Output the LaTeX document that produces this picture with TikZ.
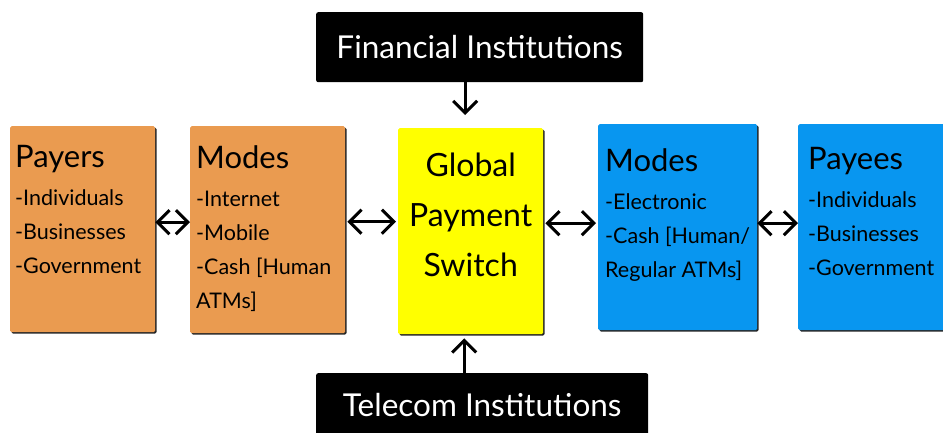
\documentclass[tikz,border=0pt]{standalone}
\usepackage{fontspec}
\setmainfont{Lato}
\usetikzlibrary{arrows.meta,shadows}
\definecolor{payorange}{RGB}{234,155,80}
\definecolor{payblue}{RGB}{8,150,240}
\definecolor{payyellow}{RGB}{255,255,0}
\newcommand{\BoxTitle}[1]{{\fontsize{31}{34}\selectfont #1}\\[4pt]}

\begin{document}
\begin{tikzpicture}[x=1pt, y=-1pt,
  box/.style={anchor=north west, inner sep=0pt, rounded corners=1.5pt,
    drop shadow={shadow xshift=1.3pt, shadow yshift=-1.3pt, fill=black!85, opacity=1}},
  inbox/.style={anchor=north west, inner sep=0pt, align=left,
    font=\fontsize{21.5}{34}\selectfont},
  blackbox/.style={anchor=north west, inner sep=0pt, rounded corners=2pt, fill=black,
    text=white, font=\fontsize{31.5}{36}\selectfont},
  twoway/.style={{Straight Barb[length=12pt,width=24pt]}-{Straight Barb[length=12pt,width=24pt]}, line width=3pt},
  oneway/.style={-{Straight Barb[length=12pt,width=24pt]}, line width=3pt}]

  \useasboundingbox (0,0) rectangle (943,432);
  \clip (0,0) rectangle (943,432);

  %% the five boxes in the row
  \node[box, fill=payorange, minimum width=145pt, minimum height=206pt] (payers) at (10,126) {};
  \node[box, fill=payorange, minimum width=155pt, minimum height=207pt] (lmodes) at (190,126) {};
  \node[box, fill=payyellow, minimum width=145pt, minimum height=206pt] (switch) at (398,128) {};
  \node[box, fill=payblue, minimum width=159pt, minimum height=206pt] (rmodes) at (598,124) {};
  \node[box, fill=payblue, minimum width=170pt, minimum height=206pt] (payees) at (798,124) {};

  \node[inbox] (payerstext) at ([shift={(5pt,-19pt)}]payers.north west)
    {\BoxTitle{Payers}-Individuals\\-Businesses\\-Government};
  \node[inbox] (lmodestext) at ([shift={(6pt,-19pt)}]lmodes.north west)
    {\BoxTitle{Modes}-Internet\\-Mobile\\-Cash [Human\\ATMs]};
  \node[inbox] (rmodestext) at ([shift={(7pt,-24pt)}]rmodes.north west)
    {\BoxTitle{Modes}-Electronic\\-Cash [Human/\\Regular ATMs]};
  \node[inbox] (payeestext) at ([shift={(10pt,-23pt)}]payees.north west)
    {\BoxTitle{Payees}-Individuals\\-Businesses\\-Government};
  \node[align=center, inner sep=0pt, font=\fontsize{32}{50}\selectfont] (switchtext)
    at ([yshift=16pt]switch.center) {Global\\Payment\\Switch};

  %% top and bottom
  \node[blackbox, minimum width=327pt, minimum height=70pt] (fin) at (316,12) {Financial Institutions};
  \node[blackbox, minimum width=332pt, minimum height=64pt] (tel) at (316,373) {Telecom Institutions};

  %% connectors
  \draw[twoway] ([yshift=7pt]payers.east) -- ([yshift=7pt]payers.east -| lmodes.west); % payers<->modes
  \draw[twoway, shorten <=2pt, shorten >=2pt] ([yshift=8pt]lmodes.east) -- ([yshift=8pt]lmodes.east -| switch.west); % modes<->switch
  \draw[twoway, shorten <=2pt, shorten >=2pt] ([yshift=8pt]switch.east) -- ([yshift=8pt]switch.east -| rmodes.west); % switch<->modes
  \draw[twoway] ([yshift=4pt]rmodes.east) -- ([yshift=4pt]rmodes.east -| payees.west); % modes<->payees

  \draw[oneway, shorten >=13pt] ([xshift=-5.5pt]switch.north |- fin.south) -- ([xshift=-5.5pt]switch.north); % fin->switch
  \draw[oneway, shorten >=4pt] ([xshift=-6.5pt]switch.south |- tel.north) -- ([xshift=-6.5pt]switch.south); % tel->switch

\end{tikzpicture}
\end{document}
